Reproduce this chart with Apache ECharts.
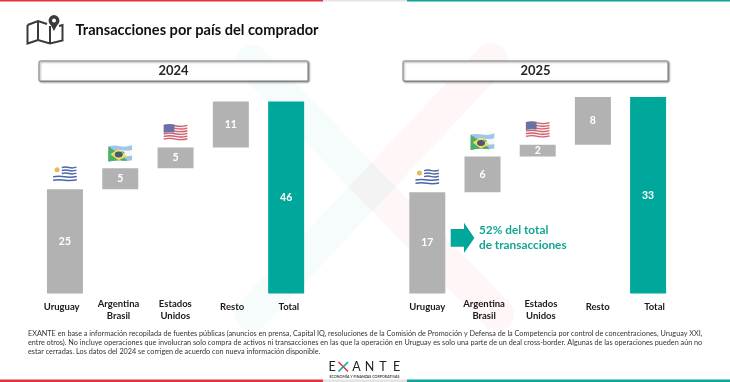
<!DOCTYPE html>
<html><head><meta charset="utf-8">
<style>html,body{margin:0;padding:0;background:#fff}#c{width:730px;height:382px}</style>
<script src="https://cdn.jsdelivr.net/npm/echarts@6/dist/echarts.min.js"></script>
</head><body><div id="c"></div>
<script>
const barKeys = ['Uruguay','Argentina Brasil','Estados Unidos','Resto','Total'];
const tickLabels = ['Uruguay','Argentina\nBrasil','Estados\nUnidos','Resto','Total'];
const values2024 = [25,5,5,11,46];
const values2025 = [17,6,2,8,33];
const max2024 = 46;
const max2025 = 33;
const GREY='#B2B2B2', TEAL='#00A89B', FONT='Lato, Carlito, sans-serif';

const svg = s => 'image://data:image/svg+xml;charset=utf-8,'+encodeURIComponent(s);
const flagUY = svg('<svg xmlns="http://www.w3.org/2000/svg" width="75" height="54" viewBox="0 0 75 54"><path d="M2 4q18-4 35 0t36-1v46q-18 4-36 0t-35 1z" fill="#fff"/><g fill="none" stroke="#1d3f94" stroke-width="4.5"><path d="M28 7q12-3 22 0t22-1"/><path d="M28 16q12-3 22 0t22-1"/><path d="M28 25q12-3 22 0t22-1"/><path d="M2 35q18-3 35 0t36-1"/><path d="M2 45q18-3 35 0t36-1"/></g><circle cx="14" cy="14" r="7.5" fill="#e2a92f"/></svg>');
const flagAB = svg('<svg xmlns="http://www.w3.org/2000/svg" width="75" height="54" viewBox="0 0 75 54"><path d="M2 6q18-4 35 0t36-4v16q-18 3-36 0L2 20z" fill="#8ab7e0"/><path d="M40 18q18 3 33 0v16q-16 4-30 0z" fill="#f4f6fa"/><path d="M40 34q16 4 33 0v14q-17 4-33 0z" fill="#8ab7e0"/><path d="M2 6l56 42q-10 1-19 0T2 52z" fill="#1f9a45"/><path d="M2 20q18-3 38 0t3 14l15 14q-10 1-19 0T2 52z" fill="#1f9a45"/><path d="M8 30L32 14l26 22-26 12z" fill="#f2d82f"/><ellipse cx="33" cy="31" rx="12" ry="9" fill="#1c2f5e"/></svg>');
const flagUS = svg('<svg xmlns="http://www.w3.org/2000/svg" width="75" height="54" viewBox="0 0 75 54"><path d="M2 4q18-4 35 0t36-1v46q-18 4-36 0t-35 1z" fill="#f4eeee"/><g fill="none" stroke="#c8394a" stroke-width="4"><path d="M2 7q18-4 35 0t36-1"/><path d="M2 15q18-4 35 0t36-1"/><path d="M2 23q18-4 35 0t36-1"/><path d="M2 31q18-4 35 0t36-1"/><path d="M2 39q18-4 35 0t36-1"/><path d="M2 47q18-4 35 0t36-1"/></g><path d="M2 4q16-4 32-1v24q-16-2-32 1z" fill="#45508e"/></svg>');
const flagSymbols = [flagUY, flagAB, flagUS];

const bases = vals => vals.map((v,i)=> i===vals.length-1 ? 0 : vals.slice(0,i).reduce((a,b)=>a+b,0));
const rt = {fontFamily:FONT,fontWeight:'bold',fontSize:9.5,color:'#1a1a1a'};

function panel(idx, vals, max, barLeft, barW, top, h, labLeft){
  const g = idx*2;
  return {
    grids:[{left:barLeft,width:barW,top:top,height:h,containLabel:false},
           {left:labLeft,width:284,top:top,height:h,containLabel:false}],
    x:[{type:'category',gridIndex:g,data:barKeys,axisLine:{show:false},axisTick:{show:false},axisLabel:{show:false},splitLine:{show:false}},
       {type:'category',gridIndex:g+1,data:tickLabels,axisLine:{show:false},axisTick:{show:false},splitLine:{show:false},
        axisLabel:{show:true,interval:0,margin:4,verticalAlign:'top',
          formatter:v=>v.includes('\n') ? v.split('\n').map(t=>'{a|'+t+'}').join('\n') : '{s|'+v+'}',
          rich:{a:{...rt,lineHeight:12.5},s:{...rt,lineHeight:19}}}}],
    y:[{type:'value',gridIndex:g,min:0,max:max,show:false,splitLine:{show:false}},
       {type:'value',gridIndex:g+1,min:0,max:max,show:false,splitLine:{show:false}}],
    series:[
      {type:'bar',xAxisIndex:g,yAxisIndex:g,stack:'s'+idx,barWidth:36,silent:true,itemStyle:{color:'transparent'},data:bases(vals)},
      {type:'bar',xAxisIndex:g,yAxisIndex:g,stack:'s'+idx,barWidth:36,silent:true,
       data:vals.map((v,i)=>({value:v,itemStyle:{color:i===vals.length-1?TEAL:GREY}})),
       label:{show:true,position:'inside',color:'#fff',fontFamily:FONT,fontWeight:'bold',fontSize:10.5}},
      {type:'scatter',xAxisIndex:g,yAxisIndex:g,silent:true,z:5,symbolSize:[25,18],symbolOffset:[0,-15],
       data:flagSymbols.map((s,i)=>({value:[i,bases(vals)[i]+vals[i]],symbol:s})),label:{show:false}}
    ]
  };
}
const a = panel(0,values2024,max2024,37.3,276.5,101.5,192,33.3);
const b = panel(1,values2025,max2025,399.7,276,97,196.5,398.9);

function yearBox(x,w,t){
  return [{type:'rect',shape:{x:x,y:61,width:w,height:20,r:1},z:3,
     style:{fill:'#fff',stroke:'#7f7f7f',lineWidth:1,shadowBlur:2,shadowColor:'rgba(0,0,0,.45)',shadowOffsetX:1,shadowOffsetY:1}},
    {type:'text',x:x+w/2,y:71,z:4,style:{text:t,fill:'#262626',font:'bold 13px '+FONT,align:'center',verticalAlign:'middle'}}];
}
function stripes(y,h){
  return [{type:'rect',shape:{x:0,y:y,width:323,height:h},style:{fill:'#E4303F'},z:3},
          {type:'rect',shape:{x:323,y:y,width:84,height:h},style:{fill:'#E4E4E4'},z:3},
          {type:'rect',shape:{x:407,y:y,width:323,height:h},style:{fill:'#0FA597'},z:3}];
}
const foot = [
 'EXANTE en base a información recopilada de fuentes públicas (anuncios en prensa, Capital IQ, resoluciones de la Comisión de Promoción y Defensa de la Competencia por control de concentraciones, Uruguay XXI,',
 'entre otros). No incluye operaciones que involucran solo compra de activos ni transacciones en las que la operación en Uruguay es solo una parte de un deal cross-border. Algunas de las operaciones pueden aún no',
 'estar cerradas. Los datos del 2024 se corrigen de acuerdo con nueva información disponible.'];
const logoLetters = [['E',332],['A',356.5],['N',369.5],['T',383],['E',396.5]];

const graphic = [
 {type:'polyline',z:-1,shape:{points:[[252,62],[372,187],[252,314]]},style:{fill:'none',stroke:'rgba(0,168,150,.04)',lineWidth:34,lineCap:'round',lineJoin:'miter'}},
 {type:'polyline',z:-1,shape:{points:[[491,60],[372,187],[497,314]]},style:{fill:'none',stroke:'rgba(228,48,63,.045)',lineWidth:34,lineCap:'round',lineJoin:'miter'}},
 ...stripes(0,1.6),...stripes(379.4,2.6),
 {type:'polyline',z:3,shape:{points:[[27.5,25],[27.5,43.5],[38,40],[50,43.5],[62.5,40.5],[62.5,25],[59,26]]},style:{fill:'none',stroke:'#3a3a3a',lineWidth:2}},
 {type:'polyline',z:3,shape:{points:[[27.5,25],[38,21],[47,24]]},style:{fill:'none',stroke:'#3a3a3a',lineWidth:2}},
 {type:'line',z:3,shape:{x1:38,y1:21,x2:38,y2:40},style:{stroke:'#3a3a3a',lineWidth:2}},
 {type:'line',z:3,shape:{x1:50,y1:26,x2:50,y2:43},style:{stroke:'#3a3a3a',lineWidth:2}},
 {type:'polygon',z:3,shape:{points:[[54,31],[49.2,22],[58.8,22]]},style:{fill:'#3a3a3a'}},
 {type:'circle',z:3,shape:{cx:54,cy:20.5,r:5.4},style:{fill:'#3a3a3a'}},
 {type:'circle',z:3,shape:{cx:54,cy:20.5,r:2},style:{fill:'#fff'}},
 {type:'text',x:75.5,y:30,z:4,style:{text:'Transacciones por país del comprador',fill:'#111',font:'bold 14.6px '+FONT,verticalAlign:'middle'}},
 ...yearBox(39,269,'2024'),...yearBox(403,265,'2025'),
 {type:'polygon',z:4,shape:{points:[[450.7,229],[464,229],[464,222.7],[474.4,238],[464,253],[464,246.7],[450.7,246.7]]},style:{fill:TEAL}},
 {type:'text',x:479,y:230,z:4,style:{text:'52% del total',fill:'#12A596',font:'bold 11.8px '+FONT,verticalAlign:'middle'}},
 {type:'text',x:479,y:245.5,z:4,style:{text:'de transacciones',fill:'#12A596',font:'bold 11.8px '+FONT,verticalAlign:'middle'}},
 ...foot.map((t,i)=>({type:'text',x:28,y:333.3+i*9.1,z:4,style:{text:t,fill:'#333',font:'7.25px '+FONT,verticalAlign:'middle'}})),
 ...logoLetters.map(l=>({type:'text',x:l[1],y:366.8,z:4,style:{text:l[0],fill:'#222',font:'12.5px '+FONT,align:'center',verticalAlign:'middle'}})),
 {type:'line',z:4,shape:{x1:338.5,y1:362,x2:348,y2:371.5},style:{stroke:'#E4303F',lineWidth:1.6}},
 {type:'line',z:4,shape:{x1:348,y1:362,x2:338.5,y2:371.5},style:{stroke:'#0FA597',lineWidth:1.6}},
 {type:'text',x:364.5,y:376.5,z:4,style:{text:'ECONOMÍA Y FINANZAS CORPORATIVAS',fill:'#444',font:'bold 3.6px '+FONT,align:'center',verticalAlign:'middle'}}
];

const chart = echarts.init(document.getElementById('c'),null,{renderer:'canvas'});
chart.setOption({
  animation:false,backgroundColor:'#fff',tooltip:{show:false},legend:{show:false},
  grid:[...a.grids,...b.grids],
  xAxis:[...a.x,...b.x],
  yAxis:[...a.y,...b.y],
  series:[...a.series,...b.series],
  graphic:{elements:graphic}
});
</script></body></html>
